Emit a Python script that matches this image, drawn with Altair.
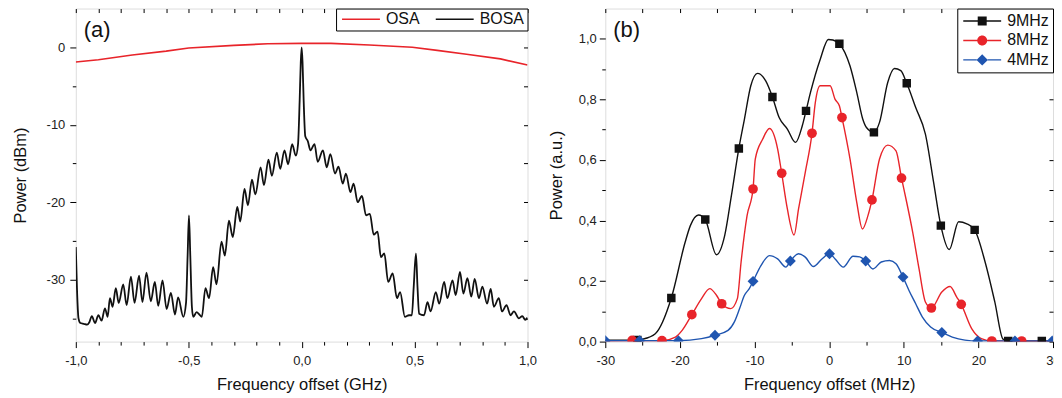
import altair as alt
import pandas as pd

FONT = "Liberation Sans"
RED = "#e8242a"
BLACK = "#111111"
BLUE = "#1f55b0"

# ---------------- panel (a) ----------------
osa_f = [-1.0, -0.9, -0.75, -0.6, -0.5, -0.3, -0.15, 0.0, 0.13, 0.3, 0.49, 0.6, 0.73, 0.88, 1.0]
osa_db = [-1.9, -1.6, -1.0, -0.5, -0.1, 0.25, 0.45, 0.5, 0.5, 0.3, 0.0, -0.4, -0.9, -1.5, -2.3]

bosa_f = [
    -1.000, -0.995, -0.988, -0.980, -0.965, -0.950, -0.940, -0.929, -0.915, -0.900,
    -0.886, -0.871, -0.859, -0.849, -0.837, -0.823, -0.810, -0.790, -0.775, -0.756,
    -0.740, -0.720, -0.705, -0.687, -0.668, -0.650, -0.635, -0.616, -0.598, -0.579,
    -0.561, -0.547, -0.524, -0.512, -0.505, -0.499, -0.493, -0.486, -0.480, -0.465,
    -0.453, -0.442, -0.426, -0.410, -0.392, -0.377, -0.355, -0.340, -0.322, -0.305,
    -0.285, -0.272, -0.253, -0.238, -0.220, -0.205, -0.182, -0.167, -0.147, -0.132,
    -0.110, -0.095, -0.076, -0.060, -0.042, -0.026, -0.016, -0.009, -0.004, 0.000,
    0.004, 0.009, 0.016, 0.027, 0.039, 0.057, 0.071, 0.094, 0.111, 0.127,
    0.148, 0.163, 0.182, 0.196, 0.216, 0.230, 0.248, 0.267, 0.285, 0.302,
    0.319, 0.336, 0.351, 0.366, 0.383, 0.403, 0.422, 0.436, 0.457, 0.475,
    0.488, 0.496, 0.506, 0.513, 0.520, 0.542, 0.557, 0.571, 0.594, 0.609,
    0.631, 0.645, 0.668, 0.682, 0.701, 0.716, 0.734, 0.751, 0.766, 0.785,
    0.800, 0.821, 0.837, 0.851, 0.873, 0.887, 0.907, 0.925, 0.940, 0.962,
    0.977, 0.990, 1.000,
]
bosa_db = [
    -25.8, -31.0, -35.0, -35.6, -35.7, -35.8, -35.5, -34.7, -35.6, -34.6,
    -35.3, -33.7, -34.8, -32.4, -33.5, -31.1, -33.0, -30.6, -33.3, -29.6,
    -33.0, -29.5, -32.9, -29.1, -32.8, -30.3, -33.4, -30.1, -33.8, -31.7,
    -34.5, -32.3, -34.8, -33.0, -27.0, -21.7, -27.0, -33.5, -34.8, -34.2,
    -34.5, -34.8, -31.1, -32.4, -28.4, -30.6, -25.1, -26.9, -22.4, -24.5,
    -20.6, -22.5, -18.3, -20.4, -17.1, -19.0, -15.5, -17.8, -14.5, -16.6,
    -13.6, -15.7, -13.3, -15.1, -12.5, -14.0, -12.5, -7.0, -2.0, 0.0,
    -2.0, -7.0, -11.5, -12.1, -13.3, -12.5, -14.8, -13.3, -15.5, -13.8,
    -16.3, -15.4, -17.6, -16.3, -18.7, -17.6, -20.0, -19.2, -21.7, -21.5,
    -24.2, -23.8, -27.1, -26.6, -30.3, -29.2, -32.4, -31.6, -34.8, -34.6,
    -34.6, -31.0, -26.6, -31.0, -34.4, -34.6, -32.9, -34.1, -31.6, -33.1,
    -30.3, -32.4, -30.1, -32.0, -29.0, -31.8, -29.8, -32.2, -29.9, -32.4,
    -30.9, -33.1, -31.2, -33.5, -32.4, -34.1, -33.3, -34.6, -34.1, -35.0,
    -34.7, -35.2, -34.9,
]

a_series = ["OSA", "BOSA"]
a_x_ticks = [-1.0, -0.9, -0.8, -0.7, -0.6, -0.5, -0.4, -0.3, -0.2, -0.1, 0.0,
             0.1, 0.2, 0.3, 0.4, 0.5, 0.6, 0.7, 0.8, 0.9, 1.0]
a_y_ticks = [-35, -30, -25, -20, -15, -10, -5, 0]

# ---------------- panel (b) ----------------
n9_x = [-30, -28, -26, -25, -23.3, -21.15, -19.3, -18.6, -17.5, -16.6, -15.1, -14.0,
        -13.1, -12.1, -11.35, -10.5, -9.6, -8.5, -7.6, -6.7, -5.6, -4.5, -3.6, -3.1,
        -2.5, -1.2, -0.1, 0.5, 1.37, 2.8, 3.7, 4.5, 5.0, 6.0, 6.75, 7.85, 8.75, 9.6,
        10.4, 11.6, 12.9, 14.0, 14.97, 16.1, 17.35, 18.45, 19.5, 20.9, 22.2, 23.3,
        24, 26, 28, 30]
n9_y = [0.005, 0.005, 0.005, 0.008, 0.026, 0.144, 0.328, 0.383, 0.418, 0.403, 0.287, 0.35,
        0.482, 0.638, 0.735, 0.845, 0.886, 0.861, 0.808, 0.74, 0.702, 0.658, 0.713, 0.762,
        0.823, 0.932, 0.998, 0.996, 0.984, 0.91, 0.823, 0.735, 0.707, 0.691, 0.724, 0.856,
        0.902, 0.895, 0.853, 0.773, 0.685, 0.526, 0.383, 0.304, 0.396, 0.389, 0.369, 0.263,
        0.131, 0.008, 0.002, 0.002, 0.002, 0.002]
n9_mx = [-25.7, -21.15, -16.6, -12.1, -7.6, -3.1, 1.37, 6.0, 10.4, 14.97, 19.5, 24.0, 28.5]
n9_my = [0.005, 0.144, 0.403, 0.638, 0.808, 0.762, 0.984, 0.691, 0.853, 0.383, 0.369, 0.002, 0.002]

n8_x = [-30, -26.4, -22.4, -20.6, -19.7, -18.4, -17.1, -16.0, -15.1, -14.4, -13.2, -12.3,
        -11.8, -11.0, -10.2, -9.9, -8.9, -8.0, -6.9, -6.36, -5.6, -4.7, -4.1, -3.2, -2.3,
        -1.85, -1.2, 0.13, 0.8, 1.37, 1.72, 2.8, 3.7, 4.46, 5.2, 5.74, 6.75, 7.85, 8.96,
        9.7, 10.3, 11.2, 12.05, 12.9, 13.7, 15.1, 16.2, 17.1, 17.7, 19.1, 20.4, 21.8, 25.8, 30]
n8_y = [0.002, 0.003, 0.003, 0.015, 0.037, 0.089, 0.142, 0.175, 0.153, 0.125, 0.109, 0.142,
        0.263, 0.416, 0.504, 0.603, 0.669, 0.704, 0.636, 0.556, 0.438, 0.352, 0.438, 0.559,
        0.688, 0.79, 0.845, 0.845, 0.80, 0.779, 0.74, 0.603, 0.46, 0.372, 0.416, 0.468, 0.603,
        0.649, 0.63, 0.540, 0.471, 0.361, 0.24, 0.131, 0.111, 0.164, 0.182, 0.147, 0.123,
        0.043, 0.01, 0.002, 0.002, 0.002]
n8_mx = [-26.4, -22.4, -18.4, -14.4, -10.2, -6.36, -2.3, 1.72, 5.74, 9.7, 13.7, 17.7, 21.8, 25.8]
n8_my = [0.004, 0.003, 0.089, 0.125, 0.504, 0.556, 0.688, 0.74, 0.468, 0.540, 0.111, 0.123, 0.002, 0.002]

n4_x = [-30, -25.4, -20.2, -17.1, -15.3, -13.55, -12.7, -12.0, -11.35, -10.7, -10.2, -9.14,
        -8.0, -6.9, -5.8, -5.2, -4.1, -3.2, -2.1, -0.97, 0.05, 0.8, 1.9, 3.2, 4.1, 4.9, 5.87,
        6.98, 8.1, 8.96, 9.9, 10.7, 11.6, 12.5, 13.6, 15.1, 16.5, 18.2, 19.9, 24.9, 30]
n4_y = [0.003, 0.003, 0.003, 0.01, 0.021, 0.037, 0.065, 0.109, 0.153, 0.175, 0.199, 0.251,
        0.284, 0.273, 0.246, 0.266, 0.29, 0.279, 0.248, 0.273, 0.29, 0.273, 0.246, 0.282,
        0.28, 0.266, 0.24, 0.263, 0.268, 0.257, 0.213, 0.169, 0.125, 0.081, 0.048, 0.03,
        0.015, 0.005, 0.002, 0.002, 0.002]
n4_mx = [-30, -25.4, -20.2, -15.3, -10.2, -5.2, 0.05, 4.9, 9.9, 15.1, 19.9, 24.9, 29.9]
n4_my = [0.003, 0.003, 0.003, 0.021, 0.199, 0.266, 0.29, 0.266, 0.213, 0.03, 0.002, 0.002, 0.002]

b_series = ["9MHz", "8MHz", "4MHz"]
b_x_ticks = [-30, -25, -20, -15, -10, -5, 0, 5, 10, 15, 20, 25, 30]
b_y_ticks = [0.0, 0.1, 0.2, 0.3, 0.4, 0.5, 0.6, 0.7, 0.8, 0.9, 1.0]

WA, WB, H = 453, 449, 334

# ---------------- helpers ----------------
def main_axis(orient, title, values, major_test, label_expr, title_pad, label_pad):
    return alt.Axis(
        orient=orient, title=title, values=values, labelExpr=f"{major_test} ? {label_expr} : ''",
        tickSize={"condition": {"test": major_test, "value": 6}, "value": 3.5},
        tickColor="black", tickWidth=1, domain=False, grid=False,
        labelFont=FONT, labelFontSize=13, labelColor="#222222", labelPadding=label_pad,
        labelFlush=False, labelOverlap=False,
        titleFont=FONT, titleFontSize=16.5, titleFontWeight="normal", titleColor="#111111",
        titlePadding=title_pad,
    )


def mirror_axis(orient, values):
    return alt.Axis(
        orient=orient, title=None, values=values, labels=False, domain=False, grid=False,
        tickSize=4, offset=-4, tickColor="black", tickWidth=1,
    )


def label_layer(text):
    return alt.Chart(pd.DataFrame({"t": [text]})).mark_text(
        font=FONT, fontSize=22, align="left", baseline="middle", color="#111111"
    ).encode(x=alt.value(8), y=alt.value(22), text="t:N")


# ---------------- panel (a) chart ----------------
dfa_osa = pd.DataFrame({"f": osa_f, "p": osa_db, "s": "OSA"})
dfa_bosa = pd.DataFrame({"f": bosa_f, "p": bosa_db, "s": "BOSA"})

xa_scale = alt.Scale(domain=[-1, 1], nice=False, zero=False)
ya_scale = alt.Scale(domain=[-38, 5], nice=False, zero=False)
a_color = alt.Color(
    "s:N",
    scale=alt.Scale(domain=a_series, range=[RED, BLACK]),
    legend=alt.Legend(
        title=None, orient="top-right", direction="horizontal", offset=0, padding=3,
        strokeColor="black", fillColor="white", symbolType="stroke", symbolSize=1444,
        symbolStrokeWidth=1.6, symbolOffset=2, labelFont=FONT, labelFontSize=16,
        labelColor="#111111", labelOffset=5, columnPadding=13, clipHeight=15,
    ),
)

a_major_x = "abs(round(datum.value*10)) % 5 == 0"
a_lab_x = "(datum.value < 0 ? '-' : '') + replace(format(abs(datum.value), '.1f'), '.', ',')"
a_major_y = "abs(datum.value) % 10 == 0"
a_lab_y = "(datum.value < 0 ? '-' : '') + format(abs(datum.value), 'd')"

osa_line = alt.Chart(dfa_osa).mark_line(strokeWidth=1.6, clip=True).encode(
    x=alt.X("f:Q", scale=xa_scale,
            axis=main_axis("bottom", "Frequency offset (GHz)", a_x_ticks, a_major_x, a_lab_x, 9, 7)),
    y=alt.Y("p:Q", scale=ya_scale,
            axis=main_axis("left", "Power (dBm)", a_y_ticks, a_major_y, a_lab_y, 18, 5)),
    color=a_color,
)
bosa_line = alt.Chart(dfa_bosa).mark_line(strokeWidth=1.8, clip=True, interpolate="monotone").encode(
    x=alt.X("f:Q", scale=xa_scale, axis=mirror_axis("top", a_x_ticks)),
    y=alt.Y("p:Q", scale=ya_scale, axis=mirror_axis("right", a_y_ticks)),
    color=a_color,
)
panel_a = alt.layer(osa_line, bosa_line, label_layer("(a)")).resolve_axis(
    x="independent", y="independent"
).properties(width=WA, height=H)

# ---------------- panel (b) chart ----------------
xb_scale = alt.Scale(domain=[-30, 30], nice=False, zero=False)
yb_scale = alt.Scale(domain=[0, 1.1], nice=False, zero=False)

b_major_x = "abs(datum.value) % 10 == 0"
b_lab_x = "(datum.value < 0 ? '-' : '') + format(abs(datum.value), 'd')"
b_major_y = "round(datum.value*10) % 2 == 0"
b_lab_y = "replace(format(datum.value, '.1f'), '.', ',')"


def b_line(xs, ys, color, axes):
    df = pd.DataFrame({"x": xs, "y": ys})
    if axes == "main":
        xax = main_axis("bottom", "Frequency offset (MHz)", b_x_ticks, b_major_x, b_lab_x, 9, 7)
        yax = main_axis("left", "Power (a.u.)", b_y_ticks, b_major_y, b_lab_y, 14, 3)
    elif axes == "mirror":
        xax = mirror_axis("top", b_x_ticks)
        yax = mirror_axis("right", b_y_ticks)
    else:
        xax = None
        yax = None
    return alt.Chart(df).mark_line(color=color, strokeWidth=1.4, clip=True, interpolate="monotone").encode(
        x=alt.X("x:Q", scale=xb_scale, axis=xax),
        y=alt.Y("y:Q", scale=yb_scale, axis=yax),
    )


def b_markers(xs, ys, color, shape, size):
    df = pd.DataFrame({"x": xs, "y": ys})
    return alt.Chart(df).mark_point(
        shape=shape, filled=True, color=color, opacity=1, size=size, clip=True
    ).encode(
        x=alt.X("x:Q", scale=xb_scale, axis=None),
        y=alt.Y("y:Q", scale=yb_scale, axis=None),
    )


SQ = "M-1,-0.037H1V0.037H-1Z M-0.237,-0.237H0.237V0.237H-0.237Z"
CI = ("M-1,-0.037H-0.263V0.037H-1Z M0.263,-0.037H1V0.037H0.263Z "
      "M-0.263,0A0.263,0.263 0 1 1 0.263,0A0.263,0.263 0 1 1 -0.263,0Z")
DI = ("M-1,-0.037H-0.29V0.037H-1Z M0.29,-0.037H1V0.037H0.29Z "
      "M0,-0.3L0.3,0L0,0.3L-0.3,0Z")

b_legend_spec = alt.Legend(
    title=None, orient="top-right", offset=0, padding=4,
    strokeColor="black", fillColor="white", symbolSize=1444, symbolOffset=1,
    labelFont=FONT, labelFontSize=16, labelColor="#111111",
    labelOffset=5, rowPadding=2.5, clipHeight=17,
)
legend_df = pd.DataFrame({"series": b_series})
b_legend = alt.Chart(legend_df).transform_filter("false").mark_point(filled=True, opacity=1).encode(
    color=alt.Color("series:N", scale=alt.Scale(domain=b_series, range=[BLACK, RED, BLUE]),
                    legend=b_legend_spec),
    shape=alt.Shape("series:N", scale=alt.Scale(domain=b_series, range=[SQ, CI, DI]),
                    legend=b_legend_spec),
)

panel_b = alt.layer(
    b_line(n9_x, n9_y, BLACK, "main"),
    b_line(n8_x, n8_y, RED, "mirror"),
    b_line(n4_x, n4_y, BLUE, None),
    b_markers(n9_mx, n9_my, BLACK, "square", 72),
    b_markers(n8_mx, n8_my, RED, "circle", 95),
    b_markers(n4_mx, n4_my, BLUE, "diamond", 120),
    b_legend,
    label_layer("(b)"),
).resolve_axis(x="independent", y="independent").properties(width=WB, height=H)

chart = alt.hconcat(panel_a, panel_b, spacing=10).resolve_scale(
    color="independent", shape="independent"
).resolve_legend(color="independent", shape="independent").properties(
    padding={"left": 3, "top": -1, "right": -7, "bottom": 0}
).configure_view(stroke="black", strokeWidth=1).configure(background="white")

chart.save("out.html", embed_options={"renderer": "svg", "actions": False})
